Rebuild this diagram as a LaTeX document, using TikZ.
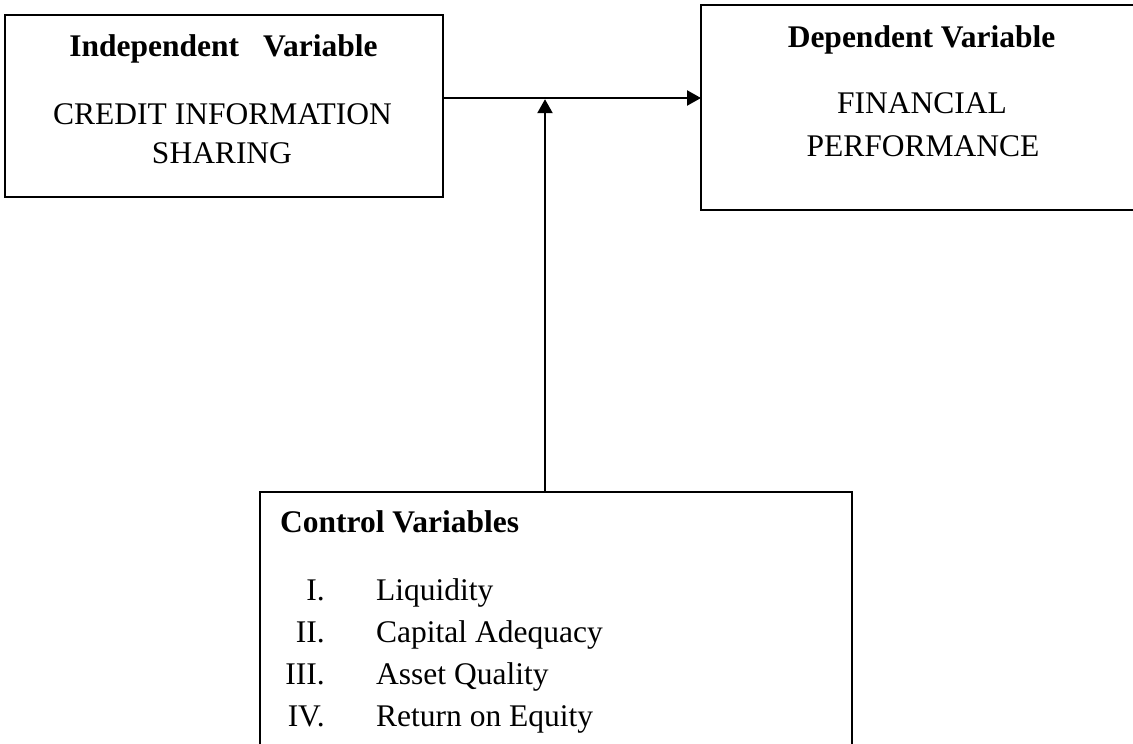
\documentclass[tikz,border=0pt]{standalone}
\usepackage{fontspec}
\setmainfont{Liberation Serif}
\usetikzlibrary{arrows.meta}
\begin{document}
\begin{tikzpicture}[x=1pt,y=-1pt,
  box/.style={draw, line width=1.5pt, inner sep=0pt, outer sep=0pt},
  txt/.style={anchor=base, inner sep=0pt, font=\fontsize{31.5}{38}\selectfont},
  head/.style={txt, font=\fontsize{31.5}{38}\selectfont\bfseries},
  link/.style={line width=2.4pt, -{Triangle[length=14pt,width=15pt]}}]
\useasboundingbox (0,0) rectangle (1133,744);
\clip (0,0) rectangle (1133,744);

% boxes
\node[box, minimum width=438pt, minimum height=182pt] (iv) at (224,106) {};
\node[box, minimum width=442pt, minimum height=205pt] (dv) at (922,107.5) {};
\node[box, minimum width=592pt, minimum height=288pt] (cv) at (556,636) {};

% independent variable
\node[head] (ivh) at (223.5,56) {Independent\hspace{24pt}Variable};
\node[txt] (ivt1) at (222.5,124) {CREDIT INFORMATION};
\node[txt] (ivt2) at (222,163) {SHARING};

% dependent variable
\node[head] (dvh) at (921.5,47) {Dependent Variable};
\node[txt] (dvt1) at (922,113) {FINANCIAL};
\node[txt] (dvt2) at (923,156) {PERFORMANCE};

% control variables
\node[head, anchor=base west] (cvh) at (280,532) {Control Variables};
\foreach \n/\lab/\y [count=\i] in {I./Liquidity/600, II./Capital Adequacy/642,
    III./Asset Quality/684, IV./Return on Equity/726}{
  \node[txt, anchor=base east] (num\i) at (325,\y) {\n};
  \node[txt, anchor=base west] (item\i) at (376,\y) {\lab};
}

% connectors
\coordinate (j) at (545,98);
\draw[link] (iv.east |- j) -- (dv.west |- j);
\draw[link, shorten >=1.2pt] (cv.north -| j) -- (j);
\end{tikzpicture}
\end{document}
